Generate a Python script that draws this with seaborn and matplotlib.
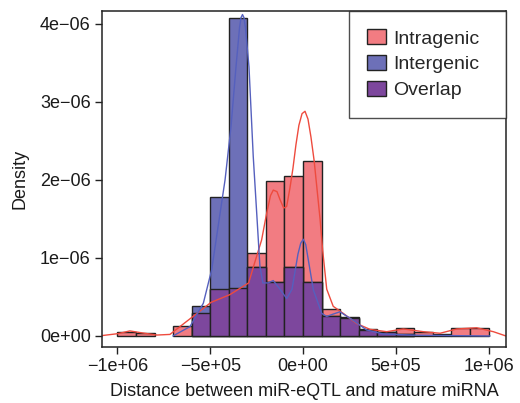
import numpy as np
import pandas as pd
import matplotlib
matplotlib.use("Agg")
import matplotlib.pyplot as plt
from matplotlib.patches import Patch
import seaborn as sns

# ---- data ----
bin_edges = [-1.0e6, -9e5, -8e5, -7e5, -6e5, -5e5, -4e5, -3e5, -2e5, -1e5, 0.0,
             1e5, 2e5, 3e5, 4e5, 5e5, 6e5, 7e5, 8e5, 9e5, 1.0e6]
# density of each bin (units of 1e-6)
intragenic = [0.055, 0.035, 0.0, 0.125, 0.30, 0.60, 0.62, 1.06, 1.99, 2.05,
              2.24, 0.345, 0.225, 0.08, 0.045, 0.10, 0.055, 0.02, 0.10, 0.10]
intergenic = [0.0, 0.0, 0.0, 0.0, 0.385, 1.786, 4.07, 0.89, 0.69, 0.89,
              0.69, 0.25, 0.24, 0.09, 0.045, 0.03, 0.0, 0.0, 0.0, 0.0]

# density curves (x in bp, y in units of 1e-6)
intra_curve_x = [-1.0836e6, -0.997e6, -0.933e6, -0.868e6, -0.787e6, -0.717e6, -0.647e6,
                 -0.571e6, -0.496e6, -0.394e6, -0.293e6, -0.259e6, -0.223e6, -0.196e6,
                 -0.175e6, -0.160e6, -0.140e6, -0.124e6, -0.104e6, -0.088e6, -0.070e6,
                 -0.054e6, -0.038e6, -0.022e6, -0.005e6, 0.011e6, 0.027e6, 0.043e6,
                 0.060e6, 0.075e6, 0.092e6, 0.106e6, 0.128e6, 0.163e6, 0.217e6, 0.289e6, 0.361e6,
                 0.451e6, 0.541e6, 0.649e6, 0.739e6, 0.829e6, 0.936e6, 1.026e6, 1.094e6]
intra_curve_y = [0.005, 0.03, 0.065, 0.04, 0.012, 0.02, 0.15,
                 0.29, 0.43, 0.53, 0.68, 0.95, 1.23, 1.57,
                 1.80, 1.87, 1.85, 1.75, 1.64, 1.66, 1.90,
                 2.15, 2.45, 2.70, 2.85, 2.88, 2.78, 2.55,
                 2.25, 1.90, 1.50, 1.10, 0.60, 0.38, 0.29, 0.16, 0.085,
                 0.055, 0.09, 0.055, 0.035, 0.09, 0.105, 0.055, 0.0]
inter_curve_x = [-0.701e6, -0.609e6, -0.537e6, -0.492e6, -0.447e6, -0.420e6, -0.388e6,
                 -0.361e6, -0.342e6, -0.334e6, -0.326e6, -0.318e6, -0.310e6, -0.291e6,
                 -0.280e6, -0.268e6, -0.250e6, -0.232e6, -0.216e6, -0.189e6, -0.160e6,
                 -0.124e6, -0.088e6, -0.059e6, -0.027e6, -0.012e6, 0.002e6, 0.015e6,
                 0.027e6, 0.056e6, 0.101e6, 0.128e6, 0.162e6, 0.199e6, 0.271e6, 0.343e6,
                 0.433e6, 0.613e6, 0.792e6, 1.008e6]
inter_curve_y = [0.0, 0.12, 0.42, 0.85, 1.57, 2.0, 2.68,
                 3.45, 3.95, 4.08, 4.12, 4.08, 3.95, 3.45,
                 2.9, 2.3, 1.6, 0.89, 0.68, 0.68, 0.71,
                 0.60, 0.48, 0.60, 1.05, 1.19, 1.24, 1.17,
                 1.00, 0.59, 0.29, 0.25, 0.28, 0.31, 0.20, 0.077,
                 0.025, 0.01, 0.005, 0.0]

series_names = ["Intragenic", "Intergenic", "Overlap"]
x_ticks = [-1e6, -5e5, 0, 5e5, 1e6]
x_tick_labels = ["\u22121e+06", "\u22125e+05", "0e+00", "5e+05", "1e+06"]
y_ticks = [0, 1e-6, 2e-6, 3e-6, 4e-6]
y_tick_labels = ["0e+00", "1e\u221206", "2e\u221206", "3e\u221206", "4e\u221206"]

# ---- styling ----
sns.set_style("white")
plt.rcParams["font.family"] = ["Liberation Sans", "DejaVu Sans"]

c_red = "#F27C82"
c_blue = "#6D70B8"
c_purple = "#7D479D"
c_red_line = "#EE4B3E"
c_blue_line = "#5560BE"

edges = np.array(bin_edges)
centers = (edges[:-1] + edges[1:]) / 2
scale = 1e-6
df = pd.DataFrame({
    "center": centers,
    "intra": np.array(intragenic) * scale,
    "inter": np.array(intergenic) * scale,
})
df["overlap"] = np.minimum(df["intra"], df["inter"])

fig, ax = plt.subplots(figsize=(5.2, 4.03), dpi=100)
fig.subplots_adjust(left=0.196, right=0.973, top=0.973, bottom=0.139)

common = dict(x="center", bins=list(bin_edges), stat="count", ax=ax, element="bars",
              edgecolor="#222222", linewidth=1.0, alpha=1.0)
sns.histplot(data=df, weights="intra", color=c_red, **common)
sns.histplot(data=df, weights="inter", color=c_blue, **common)
sns.histplot(data=df, weights="overlap", color=c_purple, **common)
for p in ax.patches:
    if p.get_height() <= 0:
        p.set_visible(False)

curve_intra = pd.DataFrame({"x": intra_curve_x, "y": np.array(intra_curve_y) * scale})
curve_inter = pd.DataFrame({"x": inter_curve_x, "y": np.array(inter_curve_y) * scale})
sns.lineplot(data=curve_intra, x="x", y="y", color=c_red_line, linewidth=1.0, sort=False, ax=ax)
sns.lineplot(data=curve_inter, x="x", y="y", color=c_blue_line, linewidth=1.0, sort=False, ax=ax)

ax.set_xlim(-1.0836e6, 1.094e6)
ax.set_ylim(-0.141e-6, 4.167e-6)
ax.set_xticks(x_ticks, x_tick_labels)
ax.set_yticks(y_ticks, y_tick_labels)
ax.tick_params(axis="both", direction="out", length=5, width=1.0, color="#222222",
               labelsize=13, labelcolor="#1a1a1a", left=True, bottom=True, pad=3)
for s in ax.spines.values():
    s.set_visible(True)
    s.set_color("#222222")
    s.set_linewidth(1.1)
ax.set_xlabel("Distance between miR-eQTL and mature miRNA", fontsize=13, color="#1a1a1a", labelpad=6)
ax.set_ylabel("Density", fontsize=13, color="#1a1a1a", labelpad=8)

handles = [Patch(facecolor=c, edgecolor="#222222", linewidth=1.0)
           for c in (c_red, c_blue, c_purple)]
leg = ax.legend(handles, series_names, loc="upper left", mode="expand",
                bbox_to_anchor=(0.611, 0.697, 0.389, 0.303), fontsize=14,
                frameon=True, fancybox=False, borderaxespad=0.0,
                handlelength=0.95, handleheight=0.8, handletextpad=0.4,
                labelspacing=0.39, borderpad=0.95)
leg.get_frame().set_edgecolor("#222222")
leg.get_frame().set_linewidth(1.0)

fig.savefig("out.png", dpi=100)
